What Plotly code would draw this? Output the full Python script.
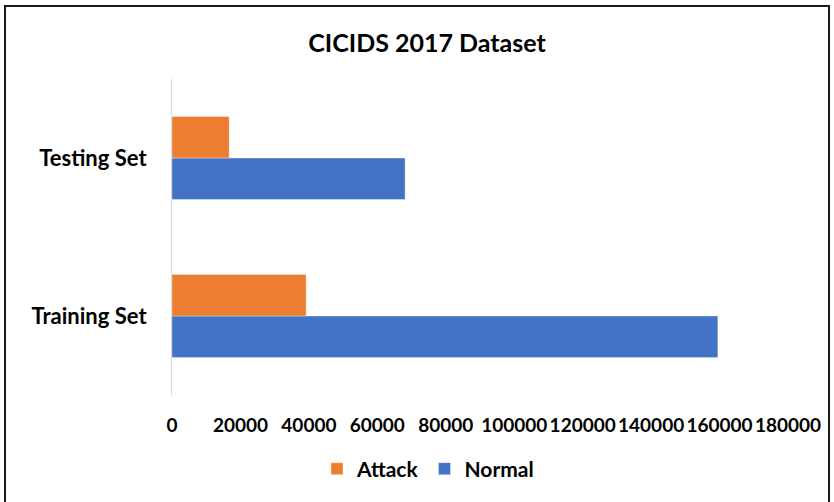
import plotly.graph_objects as go

# Record counts per split of the CICIDS 2017 dataset
categories = ["Training Set", "Testing Set"]
normal_counts = [159500, 68100]
attack_counts = [39200, 16700]
x_ticks = [0, 20000, 40000, 60000, 80000, 100000, 120000, 140000, 160000, 180000]

ORANGE = "#ED7D31"
BLUE = "#4472C4"
FONT = "Lato"

fig = go.Figure()
fig.add_trace(go.Bar(
    y=categories, x=normal_counts, name="Normal", orientation="h",
    marker=dict(color=BLUE, line=dict(color="rgba(255,255,255,0.35)", width=1)),
    legendrank=2,
))
fig.add_trace(go.Bar(
    y=categories, x=attack_counts, name="Attack", orientation="h",
    marker=dict(color=ORANGE, line=dict(color="rgba(255,255,255,0.35)", width=1)),
    legendrank=1,
))

W, H = 834, 502
L, R, T, B = 172, 46, 79, 103
pw, ph = W - L - R, H - T - B


def px_x(x):
    return (x - L) / pw


def px_y(y):
    return (H - B - y) / ph


fig.update_layout(
    width=W, height=H,
    margin=dict(l=L, r=R, t=T, b=B),
    paper_bgcolor="white", plot_bgcolor="white",
    barmode="group", bargap=0.475, bargroupgap=0,
    font=dict(family=FONT, color="black"),
    title=dict(
        text="<b>CICIDS 2017 Dataset</b>",
        x=px_x(427), xref="paper", xanchor="center",
        y=1 - 43 / H, yref="container", yanchor="middle",
        font=dict(family=FONT, size=25, color="black"),
    ),
    xaxis=dict(
        range=[0, 180000], tickvals=x_ticks,
        ticktext=[f"<b>{v}</b>" for v in x_ticks],
        showgrid=False, zeroline=False, showline=False,
        ticks="", ticklabelstandoff=17, tickangle=0,
        tickfont=dict(family=FONT, size=19, color="black"),
        fixedrange=True,
    ),
    yaxis=dict(
        categoryorder="array", categoryarray=categories,
        ticktext=[f"<b>{c}</b>" for c in categories], tickvals=categories,
        showgrid=False, zeroline=False,
        showline=True, linecolor="#D9D9D9", linewidth=1,
        ticks="", ticklabelstandoff=20,
        tickfont=dict(family=FONT, size=22, color="black"),
        fixedrange=True,
    ),
    legend=dict(
        orientation="h", x=px_x(428), xanchor="center",
        y=px_y(474), yanchor="middle",
        font=dict(family=FONT, size=21, color="black"),
        itemwidth=30, bgcolor="rgba(0,0,0,0)",
    ),
    showlegend=True,
    shapes=[dict(
        type="rect", xref="paper", yref="paper",
        x0=px_x(5), x1=px_x(829), y0=px_y(520), y1=px_y(5),
        line=dict(color="#1a1a1a", width=2), fillcolor="rgba(0,0,0,0)",
        layer="above",
    )],
)

fig.for_each_trace(lambda t: t.update(name=f"<b>{t.name}</b>"))

fig.write_html("out.html")
